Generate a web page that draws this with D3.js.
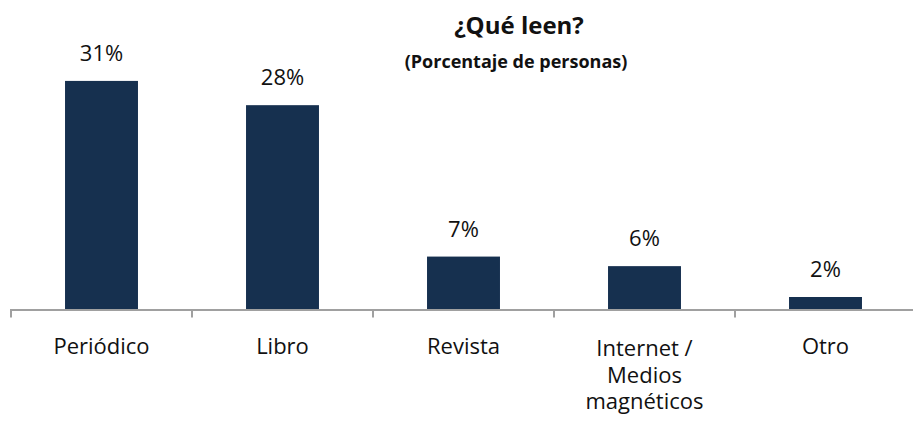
<!DOCTYPE html>
<html>
<head>
<meta charset="utf-8">
<script src="https://cdn.jsdelivr.net/npm/d3@7"></script>
<style>
  body { margin: 0; background: #fff; }
  text { font-family: "Open Sans", sans-serif; fill: #111; }
  text.title { font-weight: bold; }
</style>
</head>
<body>
<svg id="chart"></svg>
<script>
// data
const categories = ["Periódico", "Libro", "Revista", "Internet / Medios magnéticos", "Otro"];
const categoryLines = [["Periódico"], ["Libro"], ["Revista"], ["Internet /", "Medios", "magnéticos"], ["Otro"]];
const values = [31.1, 27.8, 7.2, 5.9, 1.7];
const valueLabels = ["31%", "28%", "7%", "6%", "2%"];
const title = "¿Qué leen?";
const subtitle = "(Porcentaje de personas)";

const width = 913, height = 421;
const baseY = 309.5;

const svg = d3.select("#chart")
    .attr("width", width)
    .attr("height", height);

const x = d3.scaleBand()
    .domain(categories)
    .range([11, 916])
    .paddingInner(0.597)
    .paddingOuter(0.2985);

const y = d3.scaleLinear()
    .domain([0, 35])
    .range([baseY, baseY - 35 * 7.35]);

// bars
svg.append("g")
    .selectAll("rect")
    .data(values)
    .join("rect")
    .attr("x", (d, i) => x(categories[i]))
    .attr("width", x.bandwidth())
    .attr("y", d => y(d))
    .attr("height", d => baseY - y(d))
    .attr("fill", "#16304f");

// value labels
svg.append("g")
    .selectAll("text")
    .data(values)
    .join("text")
    .attr("x", (d, i) => x(categories[i]) + x.bandwidth() / 2)
    .attr("y", d => y(d) - 20)
    .attr("text-anchor", "middle")
    .style("font-size", "22px")
    .text((d, i) => valueLabels[i]);

// x axis: line + ticks between categories
const step = x.step();
const axis = svg.append("g");
axis.append("line")
    .attr("x1", 10).attr("x2", width)
    .attr("y1", baseY + 0.5).attr("y2", baseY + 0.5)
    .attr("stroke", "#a0a0a0")
    .attr("stroke-width", 2);
axis.selectAll("line.tick")
    .data(d3.range(categories.length))
    .join("line")
    .attr("class", "tick")
    .attr("x1", i => 11 + i * step)
    .attr("x2", i => 11 + i * step)
    .attr("y1", baseY)
    .attr("y2", baseY + 8)
    .attr("stroke", "#a0a0a0")
    .attr("stroke-width", 2);

// category labels
const cats = svg.append("g")
    .selectAll("text")
    .data(categories)
    .join("text")
    .attr("x", d => x(d) + x.bandwidth() / 2)
    .attr("y", d => d.includes("/") ? 356 : 354)
    .attr("text-anchor", "middle")
    .style("font-size", "22px");
cats.each(function(d, i) {
    d3.select(this).selectAll("tspan")
        .data(categoryLines[i])
        .join("tspan")
        .attr("x", x(d) + x.bandwidth() / 2)
        .attr("dy", (t, j) => j === 0 ? 0 : 26.5)
        .text(t => t);
});

// titles
svg.append("text")
    .attr("class", "title")
    .attr("x", 519)
    .attr("y", 34)
    .attr("text-anchor", "middle")
    .style("font-size", "24px")
    .text(title);

svg.append("text")
    .attr("class", "title")
    .attr("x", 516)
    .attr("y", 68)
    .attr("text-anchor", "middle")
    .style("font-size", "18px")
    .text(subtitle);
</script>
</body>
</html>
